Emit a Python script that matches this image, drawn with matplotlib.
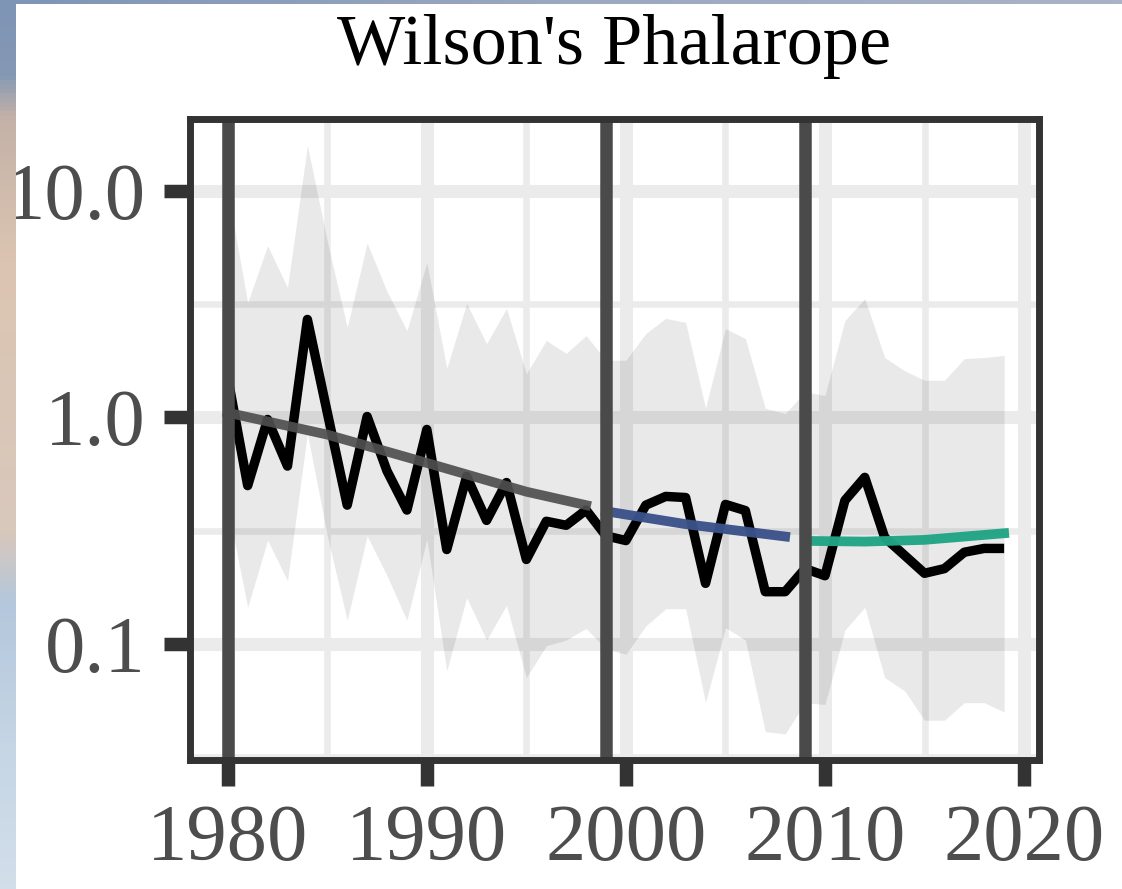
import numpy as np
import matplotlib
matplotlib.use("Agg")
import matplotlib.pyplot as plt
from matplotlib.colors import LinearSegmentedColormap
from matplotlib.ticker import FixedLocator, NullFormatter

plt.rcParams['font.family'] = ['Liberation Serif', 'DejaVu Serif']

# annual index
years = list(range(1980, 2020))
index = [1.5, 0.50, 0.98, 0.61, 2.71, 1.05, 0.41, 1.01, 0.58, 0.39,
         0.885, 0.261, 0.549, 0.351, 0.516, 0.236, 0.348, 0.334, 0.39, 0.30,
         0.286, 0.41, 0.448, 0.443, 0.185, 0.413, 0.388, 0.17, 0.17, 0.215,
         0.20, 0.43, 0.544, 0.295, 0.246, 0.205, 0.215, 0.254, 0.264, 0.264]
upper = [10.0, 3.22, 5.74, 3.75, 15.9, 6.0, 2.5, 5.9, 3.6, 2.42,
         4.83, 1.65, 3.19, 2.12, 3.03, 1.56, 2.19, 1.92, 2.3, 1.79,
         1.79, 2.35, 2.74, 2.63, 1.1, 2.47, 2.23, 1.1, 1.04, 1.3,
         1.25, 2.68, 3.35, 1.84, 1.61, 1.46, 1.46, 1.82, 1.84, 1.88]
lower = [0.40, 0.145, 0.287, 0.19, 0.85, 0.30, 0.127, 0.30, 0.20, 0.127,
         0.29, 0.076, 0.16, 0.104, 0.148, 0.071, 0.098, 0.104, 0.117, 0.095,
         0.09, 0.12, 0.143, 0.143, 0.055, 0.118, 0.104, 0.041, 0.040, 0.055,
         0.054, 0.115, 0.145, 0.071, 0.062, 0.046, 0.046, 0.055, 0.055, 0.05]

# trend segments
trend1_years = [1980, 1985, 1990, 1995, 1998]
trend1 = [1.05, 0.84, 0.63, 0.47, 0.41]
trend2_years = [1999, 2003, 2008]
trend2 = [0.385, 0.338, 0.298]
trend3_years = [2009, 2012, 2015, 2019]
trend3 = [0.285, 0.283, 0.288, 0.308]

breaks = [1980, 1999, 2009]
xticks = [1980, 1990, 2000, 2010, 2020]
yticks = [0.1, 1.0, 10.0]
ytick_labels = ['0.1', '1.0', '10.0']

fig = plt.figure(figsize=(11.22, 8.89), dpi=100)
ax = fig.add_axes([0.1693, 0.1451, 0.7567, 0.721])
ax.set_yscale('log')
ax.set_xlim(1978.1, 2020.75)
ax.set_ylim(0.0307, 20.8)

# grid
ax.set_axisbelow(True)
ax.xaxis.set_minor_locator(FixedLocator([1985, 1995, 2005, 2015]))
ax.yaxis.set_minor_locator(FixedLocator([0.0316, 0.316, 3.16]))
ax.yaxis.set_minor_formatter(NullFormatter())
ax.grid(which='major', color='#ebebeb', lw=9.4)
ax.grid(which='minor', color='#ebebeb', lw=4.7)

ax.fill_between(years, lower, upper, color='black', alpha=0.085, lw=0, zorder=1)
ax.plot(years, index, color='black', lw=6.8, zorder=2,
        solid_joinstyle='round', solid_capstyle='butt')
ax.plot(trend1_years, trend1, color='#4f4f4f', lw=7, alpha=0.92, zorder=3)
ax.plot(trend2_years, trend2, color='#3b528b', lw=7, alpha=0.97, zorder=3)
ax.plot(trend3_years, trend3, color='#21a585', lw=7, alpha=0.97, zorder=3)

for b in breaks:
    ax.axvline(b, color='#4a4a4a', lw=9, zorder=4)

ax.set_xticks(xticks)
ax.set_xticklabels([str(x) for x in xticks])
ax.set_yticks(yticks)
ax.set_yticklabels(ytick_labels)
ax.tick_params(which='major', length=19, width=9.7, color='#333333',
               labelsize=58, labelcolor='#4d4d4d')
ax.tick_params(axis='y', pad=13)
ax.tick_params(axis='x', pad=13)
ax.tick_params(which='minor', length=0)
for s in ax.spines.values():
    s.set_color('#333333')
    s.set_linewidth(5)
    s.set_zorder(5)

fig.text(0.547, 1 - 64 / 889, "Wilson's Phalarope", ha='center',
         va='baseline', fontsize=52, color='black')

# background photo peeking at the edges of the screenshot
left_cmap = LinearSegmentedColormap.from_list('edge', [
    (0.0, '#7f95b6'), (0.08, '#8598b4'), (0.13, '#c4b2a8'), (0.3, '#dcc5b2'),
    (0.6, '#d8c8bc'), (0.68, '#b4c7dc'), (0.85, '#c6d6e5'), (1.0, '#d2deea')])
lax = fig.add_axes([0, 0, 16 / 1122, 1], zorder=10)
lax.imshow(np.linspace(0, 1, 200).reshape(-1, 1), cmap=left_cmap,
           aspect='auto', extent=[0, 1, 0, 1])
lax.axis('off')
top_cmap = LinearSegmentedColormap.from_list('top', ['#7f95b6', '#9aa8c0', '#a9b3c6'])
tax = fig.add_axes([0, 1 - 4 / 889, 1, 4 / 889], zorder=10)
tax.imshow(np.linspace(0, 1, 200).reshape(1, -1), cmap=top_cmap,
           aspect='auto', extent=[0, 1, 0, 1])
tax.axis('off')

fig.savefig('out.png', dpi=100, facecolor='white')
